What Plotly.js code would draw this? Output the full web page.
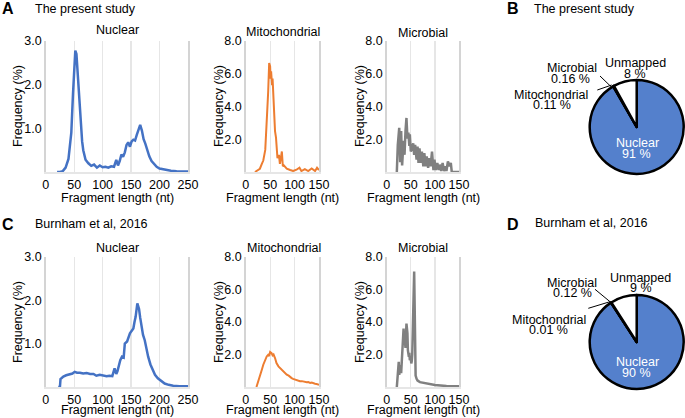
<!DOCTYPE html>
<html>
<head>
<meta charset="utf-8">
<script src="https://cdn.plot.ly/plotly-3.0.1.min.js"></script>
<style>html,body{margin:0;padding:0;background:#fff;}#chart{width:685px;height:418px;}</style>
</head>
<body>
<div id="chart"></div>
<script>
// ---- Data ----
const nucA_x = [20,25,30,35,40,45,48,50,52,54,56,58,60,62,64,66,68,70,75,80,85,90,95,100,105,110,115,120,124,127,130,133,136,139,142,145,148,151,154,157,160,163,166,169,172,175,178,182,186,190,195,200,210,220,230,240,250];
const nucA_y = [0,0,0.02,0.1,0.3,0.9,1.8,2.5,2.78,2.7,2.3,1.9,1.5,1.0,0.7,0.5,0.38,0.28,0.2,0.14,0.17,0.1,0.15,0.11,0.12,0.1,0.13,0.12,0.28,0.15,0.25,0.4,0.35,0.45,0.62,0.68,0.58,0.7,0.74,0.72,0.85,0.95,1.08,0.95,0.75,0.65,0.5,0.36,0.25,0.18,0.12,0.08,0.05,0.03,0.02,0.01,0.01];

const mitoA_x = [19,26,29,33,36,40,41,44,46,48,50,51,52,54,55,57,58,60,62,65,68,70,74,76,78,84,91,97,104,110,114,121,128,135,142,146,150];
const mitoA_y = [0,0.12,0.2,0.5,0.7,1.35,2.3,3.7,4.9,6.65,6.45,5.7,6.15,5.3,5.7,4.3,3.7,2.5,2.1,0.85,1.05,0.5,1.25,0.35,0.4,0.2,0.12,0.06,0.14,0.26,0.06,0.18,0.06,0.22,0.06,0.26,0.12];

const micA_x = [21,23,26,28,30,32,35,37,39,41,43,45,47,48,50,52,55,57,59,62,64,66,68,71,73,76,78,81,83,86,88,91,94,97,99,102,105,108,110,113,116,119,122,124,127,130,133,135,150];
const micA_y = [0,1.65,2.7,0.6,2.5,0.4,1.9,1.05,2.5,3.3,2.05,2.4,1.6,2.3,1.25,1.45,1.75,1.05,1.65,0.75,1.55,0.55,1.45,0.55,1.25,0.35,1.15,0.35,0.95,0.25,0.85,0.35,1.25,0.12,0.75,0.12,0.55,0.12,0.45,0.06,0.55,0.06,0.35,0.06,0.65,0.35,0.55,0,0];

const nucC_x = [22,25,26,31,36,43,47,51,55,60,66,72,78,84,89,95,101,107,112,117,121,124,126,129,131,134,137,139,143,148,151,154,156,158,161,164,166,168,171,174,177,180,184,188,192,197,203,209,216,224,235,250];
const nucC_y = [0,0,0.18,0.24,0.27,0.3,0.31,0.35,0.33,0.33,0.31,0.32,0.3,0.3,0.26,0.28,0.26,0.25,0.26,0.25,0.43,0.3,0.36,0.55,0.62,0.7,0.68,1.0,1.05,1.24,1.3,1.35,1.5,1.62,1.93,1.8,1.6,1.39,1.2,1.08,0.85,0.7,0.52,0.39,0.28,0.2,0.13,0.08,0.05,0.03,0.02,0.015];

const mitoC_x = [22,26,29,33,36,40,43,46,48,50,52,53,55,57,60,63,67,70,74,77,80,84,88,91,94,97,101,104,108,111,115,118,122,125,128,132,135,138,142,145,148,150];
const mitoC_y = [0,0.35,0.65,1.06,1.37,1.68,1.88,1.98,1.9,2.15,2.1,2.08,1.95,2.0,1.78,1.47,1.27,1.17,1.05,0.96,0.9,0.76,0.7,0.6,0.55,0.5,0.45,0.41,0.38,0.35,0.36,0.33,0.31,0.29,0.3,0.25,0.27,0.22,0.2,0.18,0.17,0.14];

const micC_x = [21,23,25,26,28,30,32,33,35,36,37,39,40,41,43,44,46,47,48,50,51,52,53,54,55,56,57,58,59,60,62,64,69,76,83,100,124,150];
const micC_y = [0,1.05,1.55,0.75,1.35,0.85,1.85,2.9,3.6,2.7,3.1,2.4,3.6,3.9,3.3,2.25,1.85,2.1,1.65,1.8,1.45,1.6,2.0,3.2,5.2,6.8,7.1,5.0,2.5,0.7,0.5,0.4,0.3,0.25,0.2,0.12,0.06,0.04];

const pieLabels = ['Nuclear','Mitochondrial','Microbial','Unmapped'];
const pieB_values = [91, 0.11, 0.16, 8];
const pieD_values = [90, 0.01, 0.12, 9];

const nucTicksX = [0,50,100,150,200,250];
const shortTicksX = [0,50,100,150];
const nucTicksY = [1,2,3];
const nucTickTextY = ['1.0','2.0','3.0'];
const otherTicksY = [2,4,6,8];
const otherTickTextY = ['2.0','4.0','6.0','8.0'];

// ---- Layout helpers ----
const W = 685, H = 418;
const FONT = 'Liberation Sans, Arial, Helvetica, sans-serif';
const FS = 12.5;
const px = v => v / W;
const py = v => 1 - v / H;

const BLUE = '#4472c4', ORANGE = '#ed7d31', GRAY = '#808080', PIEBLUE = '#5480cc';
const GRID = '#e6e6e6';

const colsX = [[45.7,188],[245.7,319],[386.7,459]];
const rowsY = [[41,172],[257,387]];

function xax(col, row, range, ticks, anchor) {
  return {
    domain: [px(colsX[col][0]), px(colsX[col][1])],
    range: range, tickmode: 'array', tickvals: ticks,
    showgrid: true, gridcolor: GRID, gridwidth: 1.2,
    zeroline: false, showline: true, linecolor: GRID, linewidth: 1.5,
    ticks: '', tickfont: {family: FONT, size: FS, color: '#000'},
    anchor: anchor, fixedrange: true
  };
}
function yax(col, row, range, ticks, text, anchor) {
  return {
    domain: [py(rowsY[row][1]), py(rowsY[row][0])],
    range: range, tickmode: 'array', tickvals: ticks, ticktext: text,
    showgrid: false, zeroline: false, showline: true, mirror: true, linecolor: '#d4d4d4', linewidth: 1.5,
    ticks: '', tickfont: {family: FONT, size: FS, color: '#000'},
    anchor: anchor, fixedrange: true
  };
}

const traces = [
  {x: nucA_x, y: nucA_y, xaxis: 'x', yaxis: 'y', type: 'scatter', mode: 'lines', line: {color: BLUE, width: 2.5}},
  {x: mitoA_x, y: mitoA_y, xaxis: 'x2', yaxis: 'y2', type: 'scatter', mode: 'lines', line: {color: ORANGE, width: 2}},
  {x: micA_x, y: micA_y, xaxis: 'x3', yaxis: 'y3', type: 'scatter', mode: 'lines', line: {color: GRAY, width: 2.5}},
  {x: nucC_x, y: nucC_y, xaxis: 'x4', yaxis: 'y4', type: 'scatter', mode: 'lines', line: {color: BLUE, width: 2.5}},
  {x: mitoC_x, y: mitoC_y, xaxis: 'x5', yaxis: 'y5', type: 'scatter', mode: 'lines', line: {color: ORANGE, width: 2}},
  {x: micC_x, y: micC_y, xaxis: 'x6', yaxis: 'y6', type: 'scatter', mode: 'lines', line: {color: GRAY, width: 2.5}},
  {type: 'pie', labels: pieLabels, values: pieB_values, sort: false, direction: 'clockwise', rotation: 0,
   textinfo: 'none', hoverinfo: 'none',
   marker: {colors: [PIEBLUE, '#ffffff', '#ffffff', '#ffffff'], line: {color: '#000', width: 2.5}},
   domain: {x: [px(589.7), px(683.7)], y: [py(174), py(80)]}},
  {type: 'pie', labels: pieLabels, values: pieD_values, sort: false, direction: 'clockwise', rotation: 0,
   textinfo: 'none', hoverinfo: 'none',
   marker: {colors: [PIEBLUE, '#ffffff', '#ffffff', '#ffffff'], line: {color: '#000', width: 2.5}},
   domain: {x: [px(589.7), px(683.7)], y: [py(389), py(295)]}}
];

function txt(text, x, y, opts) {
  opts = opts || {};
  return Object.assign({
    text: text, xref: 'paper', yref: 'paper', x: px(x), y: py(y),
    xanchor: 'center', yanchor: 'middle', showarrow: false,
    font: {family: FONT, size: opts.size || FS, color: opts.color || '#000'}
  }, opts.extra || {});
}

const annotations = [
  // panel letters and headings
  txt('<b>A</b>', 8, 9, {size: 16}),
  txt('The present study', 33, 9.5, {extra: {xanchor: 'left'}}),
  txt('<b>B</b>', 512.5, 9, {size: 16}),
  txt('The present study', 532, 9.5, {extra: {xanchor: 'left'}}),
  txt('<b>C</b>', 8, 224, {size: 16}),
  txt('Burnham et al, 2016', 33, 224, {extra: {xanchor: 'left'}}),
  txt('<b>D</b>', 512.5, 224, {size: 16}),
  txt('Burnham et al, 2016', 533, 223, {extra: {xanchor: 'left'}}),
  // subplot titles
  txt('Nuclear', 117.5, 30), txt('Mitochondrial', 283, 32), txt('Microbial', 422.5, 33),
  txt('Nuclear', 117, 248), txt('Mitochondrial', 284, 248), txt('Microbial', 422.5, 248),
  // axis titles
  txt('Fragment length (nt)', 117, 198.5), txt('Fragment length (nt)', 282, 198.5), txt('Fragment length (nt)', 423, 198.5),
  txt('Fragment length (nt)', 117, 409.5), txt('Fragment length (nt)', 282, 409.5), txt('Fragment length (nt)', 423, 409.5),
  txt('Frequency (%)', 18, 106, {extra: {textangle: -90}}),
  txt('Frequency (%)', 219, 106, {extra: {textangle: -90}}),
  txt('Frequency (%)', 360, 106, {extra: {textangle: -90}}),
  txt('Frequency (%)', 18, 322, {extra: {textangle: -90}}),
  txt('Frequency (%)', 219, 322, {extra: {textangle: -90}}),
  txt('Frequency (%)', 360, 322, {extra: {textangle: -90}}),
  // pie B labels
  txt('Unmapped', 635, 63.5), txt(pieB_values[3] + ' %', 635, 74.5),
  txt('Microbial', 572, 68), txt(pieB_values[2].toFixed(2) + ' %', 570, 78.5),
  txt('Mitochondrial', 550.5, 95), txt(pieB_values[1].toFixed(2) + ' %', 551.5, 104.7),
  txt('Nuclear', 637, 143.3, {color: '#fff'}), txt(pieB_values[0] + ' %', 636.7, 153.7, {color: '#fff'}),
  // pie D labels
  txt('Unmapped', 640, 278), txt(pieD_values[3] + ' %', 640.5, 287.7),
  txt('Microbial', 572, 282.5), txt(pieD_values[2].toFixed(2) + ' %', 572, 293),
  txt('Mitochondrial', 549, 319.5), txt(pieD_values[1].toFixed(2) + ' %', 548, 330),
  txt('Nuclear', 637, 361.7, {color: '#fff'}), txt(pieD_values[0] + ' %', 636.7, 372.5, {color: '#fff'})
];

function seg(x0, y0, x1, y1) {
  return {type: 'line', xref: 'paper', yref: 'paper', x0: px(x0), y0: py(y0), x1: px(x1), y1: py(y1),
          line: {color: '#000', width: 1}};
}
const shapes = [
  seg(600, 76, 611.7, 87.3), seg(597.3, 90, 611.7, 85),
  seg(595, 289.3, 610, 301.7), seg(588.3, 308.3, 610, 301.7)
];

const layout = {
  width: W, height: H, margin: {l: 0, r: 0, t: 0, b: 0},
  paper_bgcolor: '#fff', plot_bgcolor: '#fff', showlegend: false,
  font: {family: FONT, size: FS, color: '#000'},
  xaxis: xax(0, 0, [0, 250], nucTicksX, 'y'),
  yaxis: yax(0, 0, [0, 3], nucTicksY, nucTickTextY, 'x'),
  xaxis2: xax(1, 0, [0, 150], shortTicksX, 'y2'),
  yaxis2: yax(1, 0, [0, 8], otherTicksY, otherTickTextY, 'x2'),
  xaxis3: xax(2, 0, [0, 150], shortTicksX, 'y3'),
  yaxis3: yax(2, 0, [0, 8], otherTicksY, otherTickTextY, 'x3'),
  xaxis4: xax(0, 1, [0, 250], nucTicksX, 'y4'),
  yaxis4: yax(0, 1, [0, 3], nucTicksY, nucTickTextY, 'x4'),
  xaxis5: xax(1, 1, [0, 150], shortTicksX, 'y5'),
  yaxis5: yax(1, 1, [0, 8], otherTicksY, otherTickTextY, 'x5'),
  xaxis6: xax(2, 1, [0, 150], shortTicksX, 'y6'),
  yaxis6: yax(2, 1, [0, 8], otherTicksY, otherTickTextY, 'x6'),
  annotations: annotations, shapes: shapes
};

Plotly.newPlot('chart', traces, layout, {staticPlot: true, displayModeBar: false});
</script>
</body>
</html>
